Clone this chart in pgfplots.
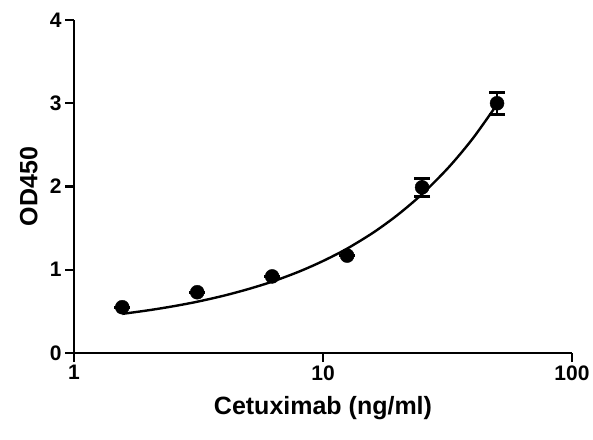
\documentclass[border=0pt]{standalone}
\usepackage{pgfplots}
\pgfplotsset{compat=1.18}
\usepackage{fontspec}
\setmainfont{Liberation Sans}
\begin{document}
\begin{tikzpicture}
\begin{axis}[
  scale only axis,
  width=498pt, height=333pt,
  xmode=log,
  xmin=1, xmax=100, ymin=0, ymax=4,
  axis x line*=bottom, axis y line*=left,
  axis line style={line width=2.6pt, black},
  every tick/.style={line width=2.4pt, black},
  tick align=outside,
  major tick length=9pt,
  xminorticks=false,
  xtick={1,10,100}, xticklabels={1,10,100},
  ytick={0,1,2,3,4},
  /pgf/number format/assume math mode=true,
  tick label style={font=\fontsize{21}{21}\selectfont\bfseries},
  label style={font=\fontsize{25}{25}\selectfont\bfseries},
  xlabel={Cetuximab (ng/ml)},
  ylabel={OD450},
  xlabel style={at={(axis description cs:0.5,-0.186)}, anchor=base},
  ylabel style={at={(axis description cs:-0.066,0.5)}, anchor=south},
  clip=false,
]
\addplot[black, line width=2.4pt, smooth, no markers] coordinates {
 (1.5625,0.470) (2,0.514) (2.5,0.561) (3.125,0.616) (4,0.689) (5,0.767)
 (6.25,0.857) (8,0.977) (10,1.105) (12.5,1.254) (16,1.451) (20,1.662)
 (25,1.909) (32,2.232) (40,2.579) (50,2.986)
};
\addplot[black, only marks, mark=*, mark size=7pt,
  error bars/.cd, y dir=both, y explicit,
  error bar style={line width=2.6pt, black},
  error mark options={rotate=90, mark size=8pt, line width=3pt, black}]
  coordinates {
 (1.5625,0.55) +- (0,0)
 (3.125,0.73) +- (0,0)
 (6.25,0.92) +- (0,0)
 (12.5,1.17) +- (0,0)
 (25,1.99) +- (0,0.11)
 (50,3.00) +- (0,0.13)
};
\end{axis}
\path ([shift={(-74pt,-86pt)}]current axis.south west) rectangle ([shift={(21pt,20pt)}]current axis.north east);
\end{tikzpicture}
\end{document}
